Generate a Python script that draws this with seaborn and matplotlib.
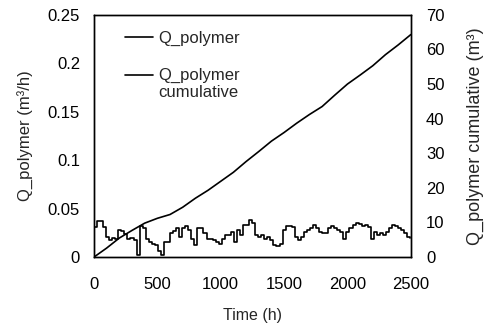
import numpy as np
import pandas as pd
import matplotlib
matplotlib.use("Agg")
import matplotlib.pyplot as plt
import seaborn as sns

# ---- Data ----
# daily flow values (m3/h), one step per 24 h starting at t = 0
step_hours = 24
q_polymer = [
    0.031, 0.0375, 0.037, 0.031, 0.021, 0.018, 0.020, 0.019, 0.028, 0.027,
    0.024, 0.019, 0.020, 0.018, 0.002, 0.032, 0.030, 0.019, 0.016, 0.014,
    0.012, 0.006, 0.002, 0.016, 0.016, 0.025, 0.027, 0.030, 0.021, 0.030,
    0.032, 0.028, 0.019, 0.0125, 0.030, 0.030, 0.025, 0.019, 0.019, 0.018,
    0.016, 0.014, 0.019, 0.023, 0.023, 0.026, 0.016, 0.028, 0.023, 0.033,
    0.033, 0.0385, 0.035, 0.023, 0.021, 0.023, 0.019, 0.021, 0.018, 0.012,
    0.011, 0.014, 0.028, 0.032, 0.032, 0.031, 0.021, 0.018, 0.021, 0.026,
    0.028, 0.030, 0.033, 0.030, 0.026, 0.025, 0.025, 0.030, 0.032, 0.030,
    0.028, 0.026, 0.019, 0.026, 0.030, 0.033, 0.035, 0.034, 0.032, 0.033,
    0.031, 0.019, 0.026, 0.023, 0.025, 0.023, 0.026, 0.030, 0.033, 0.032,
    0.030, 0.028, 0.025, 0.021, 0.020,
]

# cumulative volume (m3) read every 100 h
cum_time = [0, 100, 200, 300, 400, 500, 600, 700, 800, 900, 1000, 1100, 1200,
            1300, 1400, 1500, 1600, 1700, 1800, 1900, 2000, 2100, 2200, 2300,
            2400, 2500]
cum_volume = [0, 2.6, 5.5, 7.7, 9.8, 11.2, 12.3, 14.4, 17.0, 19.3, 21.9, 24.5,
              27.6, 30.5, 33.5, 36.0, 38.7, 41.2, 43.5, 46.8, 50.0, 52.6, 55.3,
              58.5, 61.3, 64.3]

q_time = np.arange(len(q_polymer)) * step_hours
df_q = pd.DataFrame({"time": q_time, "q": q_polymer})
df_c = pd.DataFrame({"time": cum_time, "cum": cum_volume})

sns.set_theme(style="white")
plt.rcParams["font.family"] = ["Liberation Sans", "DejaVu Sans"]

fig = plt.figure(figsize=(4.92, 3.30), dpi=100)
ax = fig.add_axes([0.191, 0.221, 0.644, 0.734])
ax2 = ax.twinx()

sns.lineplot(data=df_q, x="time", y="q", ax=ax, color="black", linewidth=1.2,
             drawstyle="steps-post", label="Q_polymer", legend=False)
sns.lineplot(data=df_c, x="time", y="cum", ax=ax2, color="black", linewidth=1.2,
             label="Q_polymer\ncumulative", legend=False)

ax.set_xlim(0, 2500)
ax.set_ylim(0, 0.25)
ax2.set_ylim(0, 70)
ax.set_xticks([0, 500, 1000, 1500, 2000, 2500])
ax.set_yticks([0, 0.05, 0.1, 0.15, 0.2, 0.25])
ax.set_yticklabels(["0", "0.05", "0.1", "0.15", "0.2", "0.25"])
ax2.set_yticks(range(0, 71, 10))

ax.tick_params(axis="x", length=0, pad=14, labelsize=12, colors="black")
ax.tick_params(axis="y", length=0, pad=10, labelsize=12, colors="black")
ax2.tick_params(axis="y", length=0, pad=11, labelsize=12, colors="black")

ax.set_xlabel("Time (h)", fontsize=11.5, labelpad=12)
ax.set_ylabel("Q_polymer (m³/h)", fontsize=12, labelpad=10)
ax2.set_ylabel("Q_polymer cumulative (m³)", fontsize=13, labelpad=16)

for a in (ax, ax2):
    for s in a.spines.values():
        s.set_color("black")
        s.set_linewidth(1.0)

handles = ax.get_lines()[:1] + ax2.get_lines()[:1]
leg = ax.legend(handles, ["Q_polymer", "Q_polymer\ncumulative"], loc="upper left",
                bbox_to_anchor=(0.05, 0.995), frameon=False, fontsize=12,
                handlelength=1.7, handletextpad=0.3, labelspacing=1.3)
# line up the second handle with the first line of its two-line label
h2 = leg.legend_handles[1]
h2.set_ydata(np.asarray(h2.get_ydata()) + 7.0)

fig.savefig("out.png", dpi=100)
